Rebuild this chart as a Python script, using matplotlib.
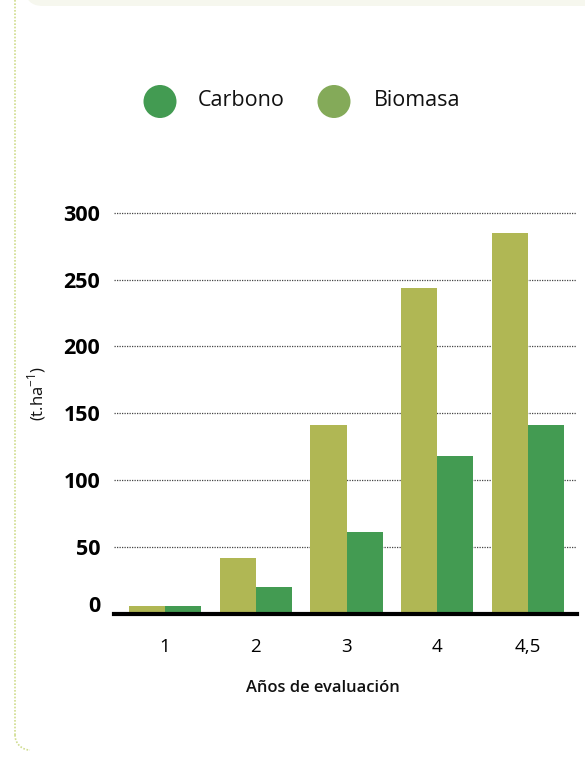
import matplotlib
matplotlib.use("Agg")
import matplotlib.pyplot as plt
from matplotlib.patches import FancyBboxPatch, Ellipse
from matplotlib.transforms import ScaledTranslation
import numpy as np

# Data
years = ["1", "2", "3", "4", "4,5"]
biomasa = [6, 42, 141, 244, 285]
carbono = [6, 20, 61, 118, 141]
y_ticks = [0, 50, 100, 150, 200, 250, 300]

C_CARBONO = "#439B52"
C_BIOMASA_BAR = "#B0B754"
C_BIOMASA_LEG = "#84AA59"

plt.rcParams["font.family"] = ["Open Sans", "DejaVu Sans"]

W, H = 585, 759
fig = plt.figure(figsize=(W / 100, H / 100), dpi=100)
fig.patch.set_facecolor("white")

# Page decoration: cream panel on top and dotted frame on the left
deco = fig.add_axes([0, 0, 1, 1], zorder=-5)
deco.set_xlim(0, W)
deco.set_ylim(H, 0)
deco.axis("off")
deco.add_patch(FancyBboxPatch((25, -40), 600, 46, boxstyle="round,pad=0,rounding_size=18",
                              facecolor="#F6F7EE", edgecolor="none"))
deco.plot([15, 15], [0, 735], color="#CFDC8E", lw=1.2, ls=(0, (1, 1)))
tt = np.linspace(np.pi, 1.5 * np.pi, 20)
deco.plot(30 + 15 * np.cos(tt), 735 - 15 * np.sin(tt), color="#CFDC8E", lw=1.2, ls=(0, (1, 1)))

# Legend
for cx, col, lab, tx in [(160, C_CARBONO, "Carbono", 198), (334, C_BIOMASA_LEG, "Biomasa", 374)]:
    deco.add_patch(Ellipse((cx, 101.5), 33, 33, facecolor=col, edgecolor="none"))
    deco.text(tx, 101, lab, fontsize=15.5, va="center", ha="left", color="#111111")

# Main chart
left_px, right_px = 114, 577
base_px = 614
ppu = (614 - 212.7) / 300
ymax = 305
ax = fig.add_axes([left_px / W, (H - base_px) / H, (right_px - left_px) / W, ymax * ppu / H])

x = np.arange(len(years))
w = 0.397
ax.bar(x - w / 2, biomasa, width=w, color=C_BIOMASA_BAR, zorder=3)
ax.bar(x + w / 2, carbono, width=w, color=C_CARBONO, zorder=3)

step = 90.75
ax.set_xlim((left_px - 165) / step, (right_px - 165) / step)
ax.set_ylim(0, ymax)

ax.set_yticks(y_ticks)
ax.set_yticklabels([str(v) for v in y_ticks], fontsize=15.5, fontweight="bold")
ax.set_xticks(x)
ax.set_xticklabels(years, fontsize=13.5)
ax.tick_params(axis="y", length=0, pad=10)
ax.tick_params(axis="x", length=0, pad=17)

# Lift the zero label above the baseline
zero_lab = ax.get_yticklabels()[0]
zero_lab.set_transform(zero_lab.get_transform() + ScaledTranslation(0, 10 / 100, fig.dpi_scale_trans))

for v in y_ticks[1:]:
    ax.axhline(v, color="#444444", lw=0.9, ls=(0, (1, 1)), zorder=1)

for s in ["top", "right", "left"]:
    ax.spines[s].set_visible(False)
ax.spines["bottom"].set_linewidth(3)
ax.spines["bottom"].set_color("black")
ax.spines["bottom"].set_zorder(4)

fig.text(323 / W, 1 - 688 / H, "Años de evaluación", fontsize=11.9, fontweight="semibold",
         ha="center", va="center", color="#111111")
fig.text(37 / W, 1 - 394 / H, r"(t.ha$^{\mathregular{-1}}$)", fontsize=12, rotation=90,
         ha="center", va="center", color="#111111")

fig.savefig("out.png", dpi=100)
